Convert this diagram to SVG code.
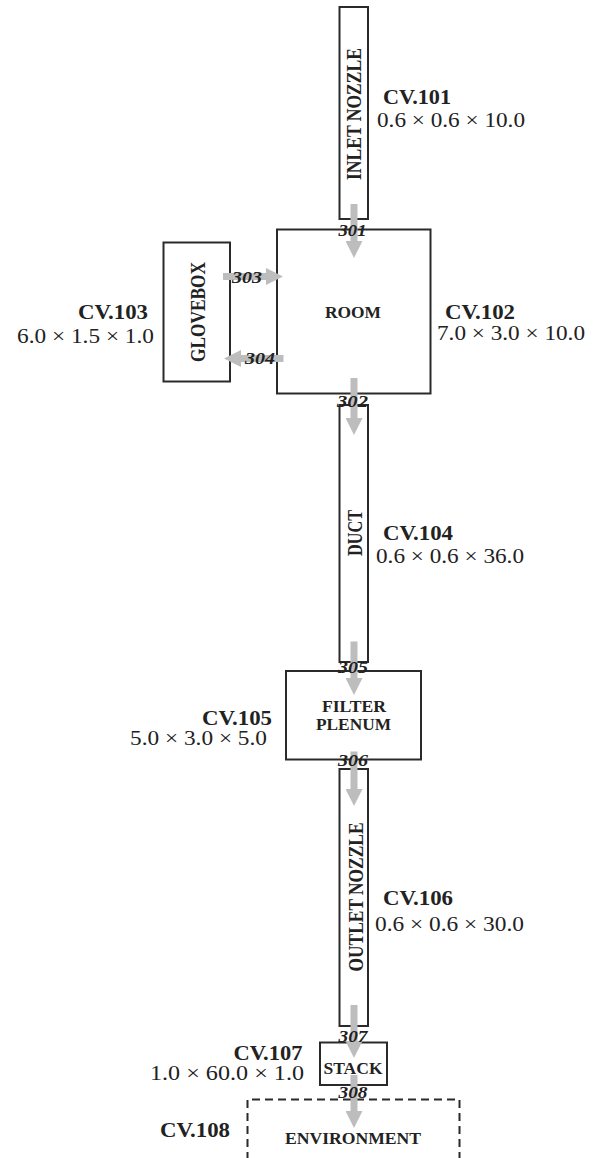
<svg xmlns="http://www.w3.org/2000/svg" width="594" height="1158" viewBox="0 0 594 1158">
<style>
.box{fill:#fff;stroke:#2a2a2a;stroke-width:2}
.env{fill:none;stroke:#2a2a2a;stroke-width:2;stroke-dasharray:8 5}
.nl{font-family:"Liberation Serif","Times New Roman",serif;font-weight:bold;font-size:17px;fill:#222}
.vl{font-family:"Liberation Serif","Times New Roman",serif;font-weight:bold;font-size:21px;fill:#222}
.cv{font-family:"Liberation Serif","Times New Roman",serif;font-weight:bold;font-size:20px;fill:#222}
.dm{font-family:"Liberation Serif","Times New Roman",serif;font-size:20px;fill:#222}
.jn{font-family:"Liberation Serif","Times New Roman",serif;font-weight:bold;font-style:italic;font-size:17px;fill:#222}
.ar{stroke:#bdbdbd;stroke-width:7;fill:none}
</style>
<defs>
<marker id="ah" markerUnits="userSpaceOnUse" markerWidth="17" markerHeight="17" viewBox="0 0 17 17" refX="1" refY="8.5" orient="auto">
<path d="M0,0 L17,8.5 L0,17 z" fill="#bdbdbd"/>
</marker>
</defs>

<g id="cv101">
<rect class="box" x="339.5" y="7" width="28.5" height="212"/>
<text class="vl" transform="translate(361,114) rotate(-90)" text-anchor="middle" textLength="132" lengthAdjust="spacingAndGlyphs">INLET NOZZLE</text>
<text class="cv" x="383" y="104" textLength="68" lengthAdjust="spacingAndGlyphs">CV.101</text>
<text class="dm" x="377" y="127" textLength="148" lengthAdjust="spacingAndGlyphs">0.6 × 0.6 × 10.0</text>
</g>

<g id="cv102">
<rect class="box" x="277" y="229.5" width="153.5" height="164"/>
<text class="nl" x="325" y="317.5" textLength="56" lengthAdjust="spacingAndGlyphs">ROOM</text>
<text class="cv" x="445" y="319" textLength="70" lengthAdjust="spacingAndGlyphs">CV.102</text>
<text class="dm" x="437" y="340" textLength="148" lengthAdjust="spacingAndGlyphs">7.0 × 3.0 × 10.0</text>
</g>

<g id="cv103">
<rect class="box" x="163.5" y="242.5" width="66.5" height="139"/>
<text class="vl" transform="translate(204.5,312) rotate(-90)" text-anchor="middle" textLength="100" lengthAdjust="spacingAndGlyphs">GLOVEBOX</text>
<text class="cv" x="78" y="319" textLength="70" lengthAdjust="spacingAndGlyphs">CV.103</text>
<text class="dm" x="17" y="343" textLength="137" lengthAdjust="spacingAndGlyphs">6.0 × 1.5 × 1.0</text>
</g>

<g id="cv104">
<rect class="box" x="339.5" y="405" width="28.5" height="257"/>
<text class="vl" transform="translate(362,533) rotate(-90)" text-anchor="middle" textLength="46" lengthAdjust="spacingAndGlyphs">DUCT</text>
<text class="cv" x="383" y="540" textLength="70" lengthAdjust="spacingAndGlyphs">CV.104</text>
<text class="dm" x="376" y="563" textLength="148" lengthAdjust="spacingAndGlyphs">0.6 × 0.6 × 36.0</text>
</g>

<g id="cv105">
<rect class="box" x="286" y="671" width="135" height="88.5"/>
<text class="nl" x="322" y="711.5" textLength="64" lengthAdjust="spacingAndGlyphs">FILTER</text>
<text class="nl" x="316" y="730" textLength="75" lengthAdjust="spacingAndGlyphs">PLENUM</text>
<text class="cv" x="202" y="725" textLength="70" lengthAdjust="spacingAndGlyphs">CV.105</text>
<text class="dm" x="130" y="745" textLength="137" lengthAdjust="spacingAndGlyphs">5.0 × 3.0 × 5.0</text>
</g>

<g id="cv106">
<rect class="box" x="339.5" y="769" width="28.5" height="257"/>
<text class="vl" transform="translate(363,897) rotate(-90)" text-anchor="middle" textLength="149" lengthAdjust="spacingAndGlyphs">OUTLET NOZZLE</text>
<text class="cv" x="383" y="905" textLength="70" lengthAdjust="spacingAndGlyphs">CV.106</text>
<text class="dm" x="375" y="930.5" textLength="149" lengthAdjust="spacingAndGlyphs">0.6 × 0.6 × 30.0</text>
</g>

<g id="cv107">
<rect class="box" x="320" y="1042.5" width="67" height="42.5"/>
<text class="nl" x="323.5" y="1074" textLength="59" lengthAdjust="spacingAndGlyphs">STACK</text>
<text class="cv" x="233.5" y="1060" textLength="69" lengthAdjust="spacingAndGlyphs">CV.107</text>
<text class="dm" x="150" y="1080" textLength="154" lengthAdjust="spacingAndGlyphs">1.0 × 60.0 × 1.0</text>
</g>

<g id="cv108">
<path class="env" d="M247.5,1160 L247.5,1099.5 L459.5,1099.5 L459.5,1160"/>
<text class="nl" x="285" y="1144" textLength="136" lengthAdjust="spacingAndGlyphs">ENVIRONMENT</text>
<text class="cv" x="160" y="1137" textLength="70" lengthAdjust="spacingAndGlyphs">CV.108</text>
</g>

<g id="connectors">
<line class="ar" x1="354" y1="204" x2="354" y2="242" marker-end="url(#ah)"/>
<line class="ar" x1="354" y1="378" x2="354" y2="419" marker-end="url(#ah)"/>
<line class="ar" x1="223" y1="276.5" x2="267" y2="276.5" marker-end="url(#ah)"/>
<line class="ar" x1="283.5" y1="358.5" x2="240" y2="358.5" marker-end="url(#ah)"/>
<line class="ar" x1="354" y1="641.5" x2="354" y2="679" marker-end="url(#ah)"/>
<line class="ar" x1="354" y1="751.5" x2="354" y2="790" marker-end="url(#ah)"/>
<line class="ar" x1="354" y1="1005" x2="354" y2="1042" marker-end="url(#ah)"/>
<line class="ar" x1="354" y1="1075" x2="354" y2="1112" marker-end="url(#ah)"/>
<text class="jn" x="338.5" y="236" textLength="28" lengthAdjust="spacingAndGlyphs">301</text>
<text class="jn" x="337" y="406.5" textLength="31" lengthAdjust="spacingAndGlyphs">302</text>
<text class="jn" x="232" y="283" textLength="30" lengthAdjust="spacingAndGlyphs">303</text>
<text class="jn" x="245" y="363.5" textLength="30" lengthAdjust="spacingAndGlyphs">304</text>
<text class="jn" x="338" y="673" textLength="30" lengthAdjust="spacingAndGlyphs">305</text>
<text class="jn" x="338" y="765.5" textLength="30" lengthAdjust="spacingAndGlyphs">306</text>
<text class="jn" x="338.5" y="1042" textLength="29" lengthAdjust="spacingAndGlyphs">307</text>
<text class="jn" x="338.5" y="1098" textLength="29" lengthAdjust="spacingAndGlyphs">308</text>
</g>
</svg>
